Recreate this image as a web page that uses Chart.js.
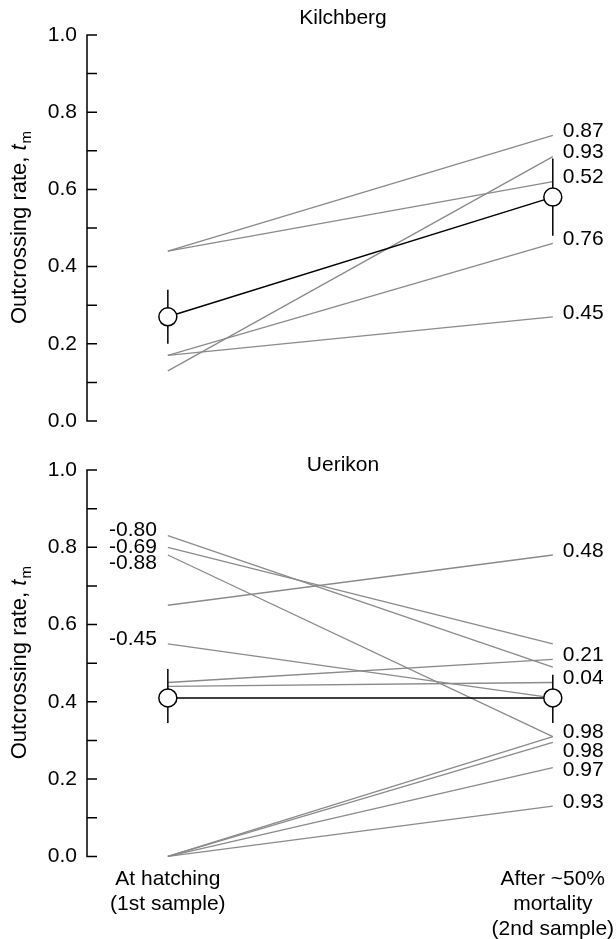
<!DOCTYPE html>
<html>
<head>
<meta charset="utf-8">
<script src="https://cdn.jsdelivr.net/npm/chart.js@4.4.1/dist/chart.umd.min.js"></script>
<style>
  html, body { margin: 0; padding: 0; background: #fff; overflow: hidden; }
  #wrap { position: relative; width: 616px; height: 939px; overflow: hidden; }
  canvas { position: absolute; left: 0; }
  #kilchberg { top: 0; }
  #uerikon { top: 453px; }
</style>
</head>
<body>
<div id="wrap">
  <canvas id="kilchberg" width="616" height="440"></canvas>
  <canvas id="uerikon" width="616" height="499"></canvas>
</div>
<script>
// x categories: 0 = at hatching, 1 = after mortality
const sampleLabels = [['At hatching', '(1st sample)'], ['After ~50%', 'mortality', '(2nd sample)']];

// Kilchberg families
const kilStart = [0.44, 0.44, 0.13, 0.17, 0.17];
const kilEnd = [0.74, 0.62, 0.685, 0.46, 0.27];
const kilEndLabels = ['0.87', '0.52', '0.93', '0.76', '0.45'];
const kilMean = [0.27, 0.58];
const kilLow = [0.20, 0.48];
const kilHigh = [0.34, 0.68];

// Uerikon families
const ueriStart = [0.83, 0.80, 0.78, 0.65, 0.55, 0.45, 0.44, 0, 0, 0, 0];
const ueriEnd = [0.49, 0.55, 0.31, 0.78, 0.41, 0.51, 0.45, 0.31, 0.295, 0.23, 0.13];
const ueriStartLabels = ['-0.80', '-0.69', '-0.88', '', '-0.45', '', '', '', '', '', ''];
const ueriEndLabels = ['', '', '', '0.48', '', '0.21', '0.04', '0.98', '0.98', '0.97', '0.93'];
const ueriMean = [0.41, 0.41];
const ueriLow = [0.345, 0.345];
const ueriHigh = [0.485, 0.47];

const FONT = "'Liberation Sans', Arial, Helvetica, sans-serif";
const GREY = '#8a8a8a';

// axis line with inward ticks, panel title, y title
const framePlugin = {
  id: 'frame',
  afterDraw(chart, args, opts) {
    const {ctx, chartArea, scales: {y}} = chart;
    const x0 = chartArea.left;
    ctx.save();
    ctx.strokeStyle = '#000';
    ctx.lineWidth = 1.5;
    ctx.beginPath();
    ctx.moveTo(x0, y.getPixelForValue(0));
    ctx.lineTo(x0, y.getPixelForValue(1));
    y.ticks.forEach(t => {
      const py = y.getPixelForValue(t.value);
      ctx.moveTo(x0 - 0.75, py);
      ctx.lineTo(x0 + 10, py);
    });
    ctx.stroke();

    // panel title
    ctx.fillStyle = '#000';
    ctx.font = '21px ' + FONT;
    ctx.textAlign = 'center';
    ctx.textBaseline = 'middle';
    ctx.fillText(opts.title, (chartArea.left + chartArea.right) / 2, chartArea.top - opts.titleGap);

    // y axis title: Outcrossing rate, t_m
    const main = 'Outcrossing rate, ';
    ctx.font = '22px ' + FONT;
    const w1 = ctx.measureText(main).width;
    ctx.font = 'italic 22px ' + FONT;
    const w2 = ctx.measureText('t').width;
    ctx.font = '15px ' + FONT;
    const w3 = ctx.measureText('m').width;
    const total = w1 + w2 + w3;
    ctx.translate(20, (chartArea.top + chartArea.bottom) / 2);
    ctx.rotate(-Math.PI / 2);
    ctx.textAlign = 'left';
    let x = -total / 2;
    ctx.font = '22px ' + FONT;
    ctx.fillText(main, x, 0);
    x += w1;
    ctx.font = 'italic 22px ' + FONT;
    ctx.fillText('t', x, 0);
    x += w2 + 1;
    ctx.font = '15px ' + FONT;
    ctx.fillText('m', x, 7);
    ctx.restore();
  }
};

// numbers at the line ends
function spread(items, gap) {
  items.sort((a, b) => a.y - b.y);
  for (let i = 1; i < items.length; i++) {
    if (items[i].y < items[i - 1].y + gap) items[i].y = items[i - 1].y + gap;
  }
  return items;
}

const endLabelPlugin = {
  id: 'endLabels',
  afterDatasetsDraw(chart, args, opts) {
    const {ctx} = chart;
    const left = [], right = [];
    opts.end.forEach((txt, i) => {
      const meta = chart.getDatasetMeta(opts.first + i);
      const pS = meta.data[0], pE = meta.data[1];
      if (opts.start && opts.start[i]) left.push({text: opts.start[i], x: pS.x - 11, y: pS.y - 5});
      if (txt) right.push({text: txt, x: pE.x + 10, y: pE.y - 4});
    });
    ctx.save();
    ctx.fillStyle = '#000';
    ctx.font = '21px ' + FONT;
    ctx.textBaseline = 'middle';
    ctx.textAlign = 'right';
    spread(left, 16.5).forEach(l => ctx.fillText(l.text, l.x, l.y));
    ctx.textAlign = 'left';
    spread(right, 19).forEach(l => ctx.fillText(l.text, l.x, l.y));
    ctx.restore();
  }
};

function makePanel(id, o) {
  const datasets = [
    {
      data: [{x: 0, y: o.mean[0]}, {x: 1, y: o.mean[1]}],
      borderColor: '#000', borderWidth: 1.5,
      pointRadius: 9, pointBackgroundColor: '#fff', pointBorderColor: '#000', pointBorderWidth: 1.5
    },
    {
      data: [{x: 0, y: o.low[0]}, {x: 0, y: o.high[0]}],
      borderColor: '#000', borderWidth: 1.5, pointRadius: 0
    },
    {
      data: [{x: 1, y: o.low[1]}, {x: 1, y: o.high[1]}],
      borderColor: '#000', borderWidth: 1.5, pointRadius: 0
    }
  ];
  o.start.forEach((s, i) => {
    datasets.push({
      data: [{x: 0, y: s}, {x: 1, y: o.end[i]}],
      borderColor: GREY, borderWidth: 1.3, pointRadius: 0
    });
  });

  return new Chart(document.getElementById(id), {
    type: 'line',
    data: {datasets},
    plugins: [framePlugin, endLabelPlugin],
    options: {
      responsive: false,
      animation: false,
      clip: false,
      layout: {padding: o.padding},
      plugins: {
        legend: {display: false},
        tooltip: {enabled: false},
        frame: {title: o.title, titleGap: o.titleGap},
        endLabels: {start: o.startLabels, end: o.endLabels, first: 3}
      },
      scales: {
        x: {
          type: 'linear',
          min: -0.21,
          max: 1.12,
          display: o.showX,
          grid: {display: false, drawTicks: false},
          border: {display: false},
          afterBuildTicks: s => { s.ticks = [{value: 0}, {value: 1}]; },
          afterFit: s => { s.paddingLeft = 0; s.paddingRight = 0; },
          ticks: {
            autoSkip: false,
            maxRotation: 0,
            padding: 10,
            color: '#000',
            font: {family: FONT, size: 21, lineHeight: 1.2},
            callback: v => sampleLabels[v]
          }
        },
        y: {
          min: 0,
          max: 1,
          afterFit: s => { s.width = 87; s.paddingTop = 0; s.paddingBottom = 0; },
          grid: {display: false, drawTicks: false},
          border: {display: false},
          ticks: {
            stepSize: 0.1,
            padding: 10,
            color: '#000',
            font: {family: FONT, size: 21},
            callback: v => (Math.round(v * 10) % 2 === 0 ? v.toFixed(1) : '')
          }
        }
      }
    }
  });
}

makePanel('kilchberg', {
  title: 'Kilchberg', titleGap: 17,
  start: kilStart, end: kilEnd, startLabels: null, endLabels: kilEndLabels,
  mean: kilMean, low: kilLow, high: kilHigh,
  showX: false,
  padding: {top: 35, bottom: 19, left: 0, right: 17}
});

makePanel('uerikon', {
  title: 'Uerikon', titleGap: 5,
  start: ueriStart, end: ueriEnd, startLabels: ueriStartLabels, endLabels: ueriEndLabels,
  mean: ueriMean, low: ueriLow, high: ueriHigh,
  showX: true,
  padding: {top: 17, bottom: 0, left: 0, right: 17}
});
</script>
</body>
</html>
